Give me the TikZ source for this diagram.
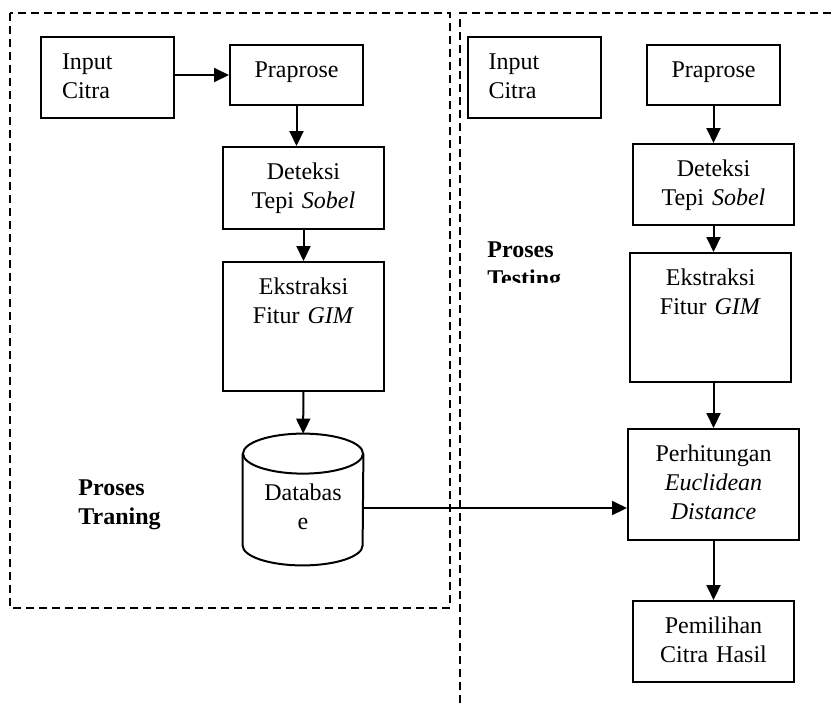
\documentclass[tikz,border=0pt]{standalone}
\usepackage{fontspec}
\setmainfont{Liberation Serif}
\usetikzlibrary{positioning,arrows.meta}

\begin{document}
\begin{tikzpicture}[x=0.5pt, y=-0.5pt,
  every node/.style = {font=\fontsize{12}{14.5}\selectfont},
  blok/.style = {shape=rectangle, draw, line width=1pt, align=center,
    inner sep=0pt, text height=16pt},
  masukan/.style = {blok, align=left, inner xsep=10.5pt, text width=45.5pt,
    text depth=24.5pt},
  judul/.style = {anchor=base west, text width=60pt, align=left, inner sep=0pt,
    font=\fontsize{12}{14.5}\selectfont\bfseries},
  panah/.style = {line width=1pt, -{Triangle[length=7.5pt,width=7pt]}},
  bingkai/.style = {line width=0.75pt, dash pattern=on 4pt off 2.5pt}]
  \useasboundingbox (0,0) rectangle (833,703);

  % proses traning
  \node[masukan] (inL) at (107.5,77.5) {Input\\Citra};
  \node[blok, text width=66.5pt, text depth=14pt] (prL) at (296.5,75) {Praprose};
  \node[blok, text width=80.5pt, text depth=25pt] (detL) at (303.5,188) {Deteksi\\Tepi \textit{Sobel}};
  \node[blok, text width=80.5pt, text depth=48.5pt] (eksL) at (303.5,326.5) {Ekstraksi\\Fitur \textit{GIM}};
  \node[align=center, inner sep=0pt, text width=60pt, text height=33pt,
    text depth=32.5pt] (db) at (303,499.5) {Databas\\e};
  \draw[line width=1pt] ([yshift=-10pt]db.north west)
    -- ([yshift=10pt]db.south west)
    arc[start angle=180, end angle=360, x radius=30pt, y radius=10pt]
    -- ([yshift=-10pt]db.north east);
  \draw[line width=1pt] ([yshift=-10pt]db.north) ellipse [x radius=30pt, y radius=10pt];
  \node[judul] (trn) at (78,495) {Proses\\Traning};

  % proses testing
  \node[masukan] (inR) at (534,77.5) {Input\\Citra};
  \node[blok, text width=66.5pt, text depth=14pt] (prR) at (713.5,75) {Praprose};
  \node[blok, text width=80.5pt, text depth=24.5pt] (detR) at (713.5,184.5) {Deteksi\\Tepi \textit{Sobel}};
  \node[blok, text width=80.5pt, text depth=48.5pt] (eksR) at (710.5,317.5) {Ekstraksi\\Fitur \textit{GIM}};
  \node[blok, text width=85.5pt, text depth=39.5pt] (hit) at (713.5,484.5) {Perhitungan\\\textit{Euclidean}\\\textit{Distance}};
  \node[blok, text width=80.5pt, text depth=24.5pt] (pil) at (713.5,641.5) {Pemilihan\\Citra Hasil};
  \begin{scope}
    \clip (470,230) rectangle (600,282);
    \node[judul] (tst) at (487,257) {Proses\\Testing};
  \end{scope}

  % panah
  \draw[panah] (inL.east |- prL.west) -- (prL.west);
  \draw[panah] (prL.south) -- (prL.south |- detL.north);
  \draw[panah] (detL) -- (eksL);
  \draw[panah] (eksL) -- (db);
  \coordinate (dbk) at ([yshift=-4.25pt]db.east);
  \draw[panah] (dbk) -- (dbk -| hit.west);
  \draw[panah] (prR) -- (detR);
  \draw[panah] (detR.south) -- (detR.south |- eksR.north);
  \draw[panah] (hit.north |- eksR.south) -- (hit.north);
  \draw[panah] (hit) -- (pil);

  % bingkai
  \draw[bingkai] (10,13) rectangle (450,608);
  \draw[bingkai] (460,703) -- (460,13) -- (833,13);
\end{tikzpicture}
\end{document}
